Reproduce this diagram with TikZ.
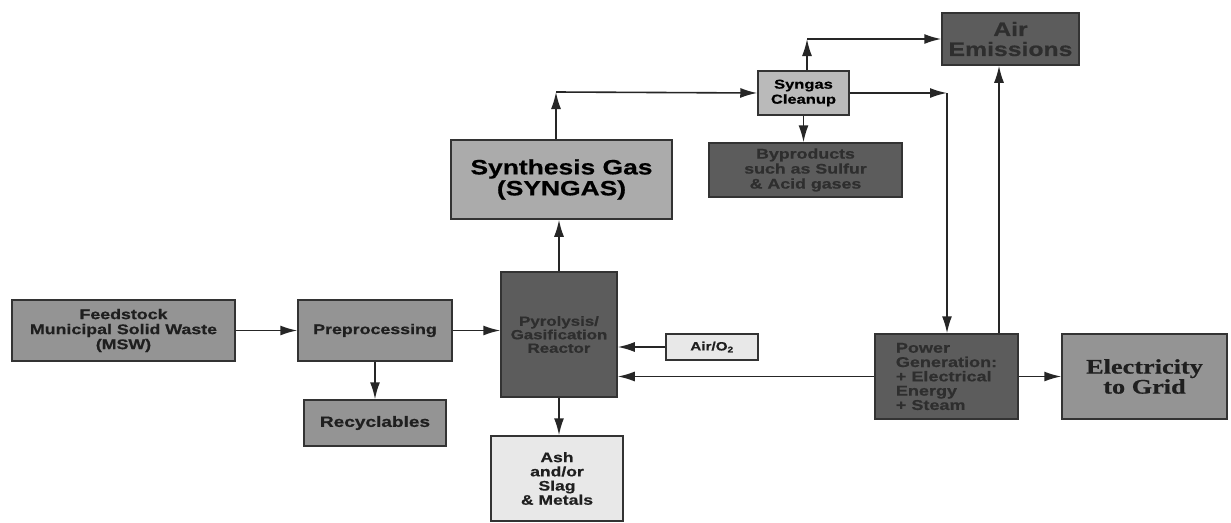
\documentclass[tikz,border=0pt]{standalone}
\usepackage{fontspec}
\usetikzlibrary{arrows.meta}
\newfontfamily\boxfont{Liberation Sans}[FakeStretch=1.27, BoldFeatures={FakeBold=0.6}]
\newfontfamily\gridfont{Liberation Serif}[FakeStretch=1.27, BoldFeatures={FakeBold=0.6}]
\def\fs#1#2{\fontsize{#1}{#2}\selectfont}
\tikzset{
	box/.style={draw=black!80, line width=1.5pt, inner sep=0pt, align=center},
	txt/.style 2 args={font=\boxfont\bfseries\fs{#1}{#2}},
	dark/.style={box, fill=black!64, text=black!82},
	mid/.style={box, fill=black!42, text=black!88},
	pale/.style={box, fill=black!9, text=black!88},
	arr/.style={line width=1.6pt, draw=black!85, -{Latex[length=17pt,width=10pt]}},
}
\begin{document}
\begin{tikzpicture}[x=1pt, y=-1pt]
		%%%%% START %%%%%
		\useasboundingbox[fill=white] (0, 0) rectangle (1231, 522);
		
		\node[mid, txt={14}{15}, minimum width=223pt, minimum height=61pt] (feed) at (123.5, 330.5) {Feedstock\\Municipal Solid Waste\\(MSW)};
		\node[mid, txt={14}{15}, minimum width=154pt, minimum height=61pt] (prep) at (375, 330.5) {Preprocessing};
		\node[mid, txt={15}{16}, minimum width=142pt, minimum height=46pt] (recyc) at (375, 423) {Recyclables};
		
		\node[dark, txt={13.3}{13.5}, minimum width=116pt, minimum height=125pt] (reactor) at (559, 334.5) {Pyrolysis/\\Gasification\\Reactor};
		\node[pale, txt={12}{13}, minimum width=92pt, minimum height=26pt] (air) at (712, 347) {Air/O\textsubscript{2}};
		\node[pale, txt={13.8}{14.2}, minimum width=132pt, minimum height=85pt] (ash) at (557, 478.5) {Ash\\and/or\\Slag\\\& Metals};
		
		\node[box, txt={20.8}{21}, fill=black!33, minimum width=221pt, minimum height=79pt] (synth) at (561.5, 179.5) {Synthesis Gas\\(SYNGAS)};
		\node[box, txt={13}{15}, fill=black!27, minimum width=91pt, minimum height=44pt] (clean) at (803.5, 93) {Syngas\\Cleanup};
		\node[dark, txt={14}{15}, minimum width=193pt, minimum height=54pt] (byprod) at (805.5, 170) {Byproducts\\such as Sulfur\\\& Acid gases};
		\node[dark, txt={19.5}{20}, minimum width=137pt, minimum height=52pt] (emis) at (1010.5, 39) {Air\\Emissions};
		
		\node[dark, txt={14.2}{14.3}, align=left, minimum width=143pt, minimum height=85pt] (power) at (946.5, 376.5) {Power\\Generation:\\+ Electrical\\Energy\\+ Steam};
		\node[mid, font=\gridfont\bfseries\fs{20.7}{20}, minimum width=165pt, minimum height=85pt] (grid) at (1144.5, 376.5) {Electricity\\to Grid};
		
		\coordinate (c1) at (556, 92);
		\coordinate (c2) at (807, 39);
		\coordinate (c3) at (947, 93);
		\coordinate (c4) at (999, 0);
		
		\draw[arr] (feed.east) -- (prep.west);
		\draw[arr] (prep.east) -- (prep.east -| reactor.west);
		\draw[arr] (prep.south) -- (recyc.north);
		\draw[arr] (reactor.south) -- (reactor.south |- ash.north);
		\draw[arr] (air.west) -- (air.west -| reactor.east);
		\draw[arr] (power.west) -- (power.west -| reactor.east);
		\draw[arr] (reactor.north) -- (reactor.north |- synth.south);
		
		\draw[arr] (synth.north -| c1) -- (c1);
		\draw[arr] (c1) -- (clean.west);
		\draw[arr] (clean.north -| c2) -- (c2);
		\draw[arr] (c2) -- (c2 -| emis.west);
		\draw[arr] (clean.south) -- (clean.south |- byprod.north);
		\draw[arr] (clean.east) -- (c3);
		\draw[arr] (c3) -- (c3 |- power.north);
		\draw[arr] (c4 |- power.north) -- (c4 |- emis.south);
		\draw[arr] (power.east) -- (grid.west);
		
		%%%%% END %%%%%
	\end{tikzpicture}
\end{document}
